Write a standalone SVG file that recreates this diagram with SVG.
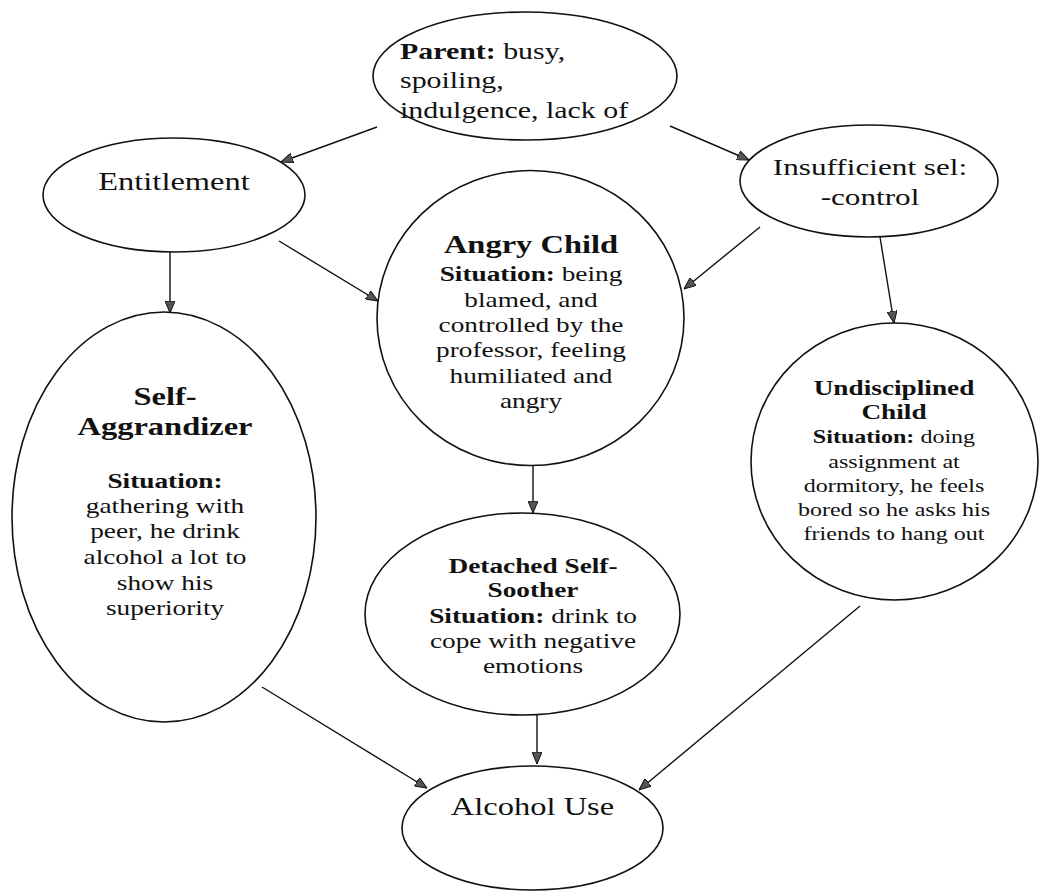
<svg xmlns="http://www.w3.org/2000/svg" width="1041" height="891" viewBox="0 0 1041 891">
  <style>
    .shape { fill: #ffffff; stroke: #111111; stroke-width: 1.6; }
    .lbl { font-family: "Liberation Serif", "Times New Roman", serif; fill: #111111; text-anchor: middle; }
    .b { font-weight: bold; }
    .edge { fill: none; stroke: #111111; stroke-width: 1.4; marker-end: url(#head); }
  </style>
  <defs>
    <marker id="head" viewBox="0 0 12 10" markerWidth="12" markerHeight="10" refX="12" refY="5" orient="auto" markerUnits="userSpaceOnUse">
      <path d="M0,0 L12,5 L0,10 Z" fill="#555555" stroke="#111111" stroke-width="1"/>
    </marker>
  </defs>
  <rect width="1041" height="891" fill="#ffffff"/>

  <!-- connectors -->
  <g id="connectors">
    <line class="edge" x1="377" y1="127" x2="281" y2="162"/>
    <line class="edge" x1="670" y1="126" x2="749" y2="160"/>
    <line class="edge" x1="170" y1="252" x2="170" y2="313"/>
    <line class="edge" x1="279" y1="241" x2="378" y2="301"/>
    <line class="edge" x1="760" y1="227" x2="684" y2="289"/>
    <line class="edge" x1="880" y1="237" x2="894" y2="323"/>
    <line class="edge" x1="533" y1="465" x2="533" y2="513"/>
    <line class="edge" x1="262" y1="687" x2="427" y2="788"/>
    <line class="edge" x1="537" y1="715" x2="537" y2="764"/>
    <line class="edge" x1="860" y1="606" x2="639" y2="790"/>
  </g>

  <!-- Parent -->
  <g id="node-parent">
    <ellipse class="shape" cx="525" cy="76" rx="152" ry="64"/>
    <g transform="translate(400 0) scale(1.3 1)">
      <text class="lbl" style="text-anchor:start" font-size="23" x="0" y="59"><tspan class="b">Parent:</tspan> busy,</text>
      <text class="lbl" style="text-anchor:start" font-size="23" x="0" y="88.5">spoiling,</text>
      <text class="lbl" style="text-anchor:start" font-size="23" x="0" y="118">indulgence, lack of</text>
    </g>
  </g>

  <!-- Entitlement -->
  <g id="node-entitlement">
    <ellipse class="shape" cx="174" cy="195" rx="131" ry="57"/>
    <g transform="translate(174 0) scale(1.3 1)">
      <text class="lbl" font-size="25" x="0" y="190">Entitlement</text>
    </g>
  </g>

  <!-- Insufficient self-control -->
  <g id="node-selfcontrol">
    <ellipse class="shape" cx="869" cy="181" rx="129" ry="56"/>
    <g transform="translate(870 0) scale(1.3 1)">
      <text class="lbl" font-size="24" x="0" y="175">Insufficient sel:</text>
      <text class="lbl" font-size="24" x="0" y="205">-control</text>
    </g>
  </g>

  <!-- Angry Child -->
  <g id="node-angry">
    <ellipse class="shape" cx="530.5" cy="318" rx="153.5" ry="147.5"/>
    <g transform="translate(531 0) scale(1.3 1)">
      <text class="lbl b" font-size="25" x="0" y="253">Angry Child</text>
      <text class="lbl" font-size="21" x="0" y="281"><tspan class="b">Situation:</tspan> being</text>
      <text class="lbl" font-size="21" x="0" y="307">blamed, and</text>
      <text class="lbl" font-size="21" x="0" y="332">controlled by the</text>
      <text class="lbl" font-size="21" x="0" y="357">professor, feeling</text>
      <text class="lbl" font-size="21" x="0" y="383">humiliated and</text>
      <text class="lbl" font-size="21" x="0" y="408">angry</text>
    </g>
  </g>

  <!-- Self-Aggrandizer -->
  <g id="node-aggrandizer">
    <ellipse class="shape" cx="164" cy="517" rx="152" ry="205"/>
    <g transform="translate(165 0) scale(1.3 1)">
      <text class="lbl b" font-size="25" x="0" y="405">Self-</text>
      <text class="lbl b" font-size="25" x="0" y="435">Aggrandizer</text>
      <text class="lbl b" font-size="21" x="0" y="488">Situation:</text>
      <text class="lbl" font-size="21" x="0" y="513">gathering with</text>
      <text class="lbl" font-size="21" x="0" y="538">peer, he drink</text>
      <text class="lbl" font-size="21" x="0" y="564">alcohol a lot to</text>
      <text class="lbl" font-size="21" x="0" y="590">show his</text>
      <text class="lbl" font-size="21" x="0" y="615">superiority</text>
    </g>
  </g>

  <!-- Undisciplined Child -->
  <g id="node-undisciplined">
    <ellipse class="shape" cx="894.5" cy="461.5" rx="143.5" ry="138.5"/>
    <g transform="translate(894 0) scale(1.3 1)">
      <text class="lbl b" font-size="21" x="0" y="395">Undisciplined</text>
      <text class="lbl b" font-size="21" x="0" y="419">Child</text>
      <text class="lbl" font-size="18.5" x="0" y="443"><tspan class="b">Situation:</tspan> doing</text>
      <text class="lbl" font-size="18.5" x="0" y="468">assignment at</text>
      <text class="lbl" font-size="18.5" x="0" y="492">dormitory, he feels</text>
      <text class="lbl" font-size="18.5" x="0" y="516">bored so he asks his</text>
      <text class="lbl" font-size="18.5" x="0" y="540">friends to hang out</text>
    </g>
  </g>

  <!-- Detached Self-Soother -->
  <g id="node-detached">
    <ellipse class="shape" cx="522.5" cy="614" rx="157.5" ry="101"/>
    <g transform="translate(533 0) scale(1.3 1)">
      <text class="lbl b" font-size="21" x="0" y="573">Detached Self-</text>
      <text class="lbl b" font-size="21" x="0" y="597">Soother</text>
      <text class="lbl" font-size="21" x="0" y="623"><tspan class="b">Situation:</tspan> drink to</text>
      <text class="lbl" font-size="21" x="0" y="648">cope with negative</text>
      <text class="lbl" font-size="21" x="0" y="673">emotions</text>
    </g>
  </g>

  <!-- Alcohol Use -->
  <g id="node-alcohol">
    <ellipse class="shape" cx="532.5" cy="828" rx="130.5" ry="62"/>
    <g transform="translate(532.5 0) scale(1.3 1)">
      <text class="lbl" font-size="25" x="0" y="815">Alcohol Use</text>
    </g>
  </g>
</svg>
